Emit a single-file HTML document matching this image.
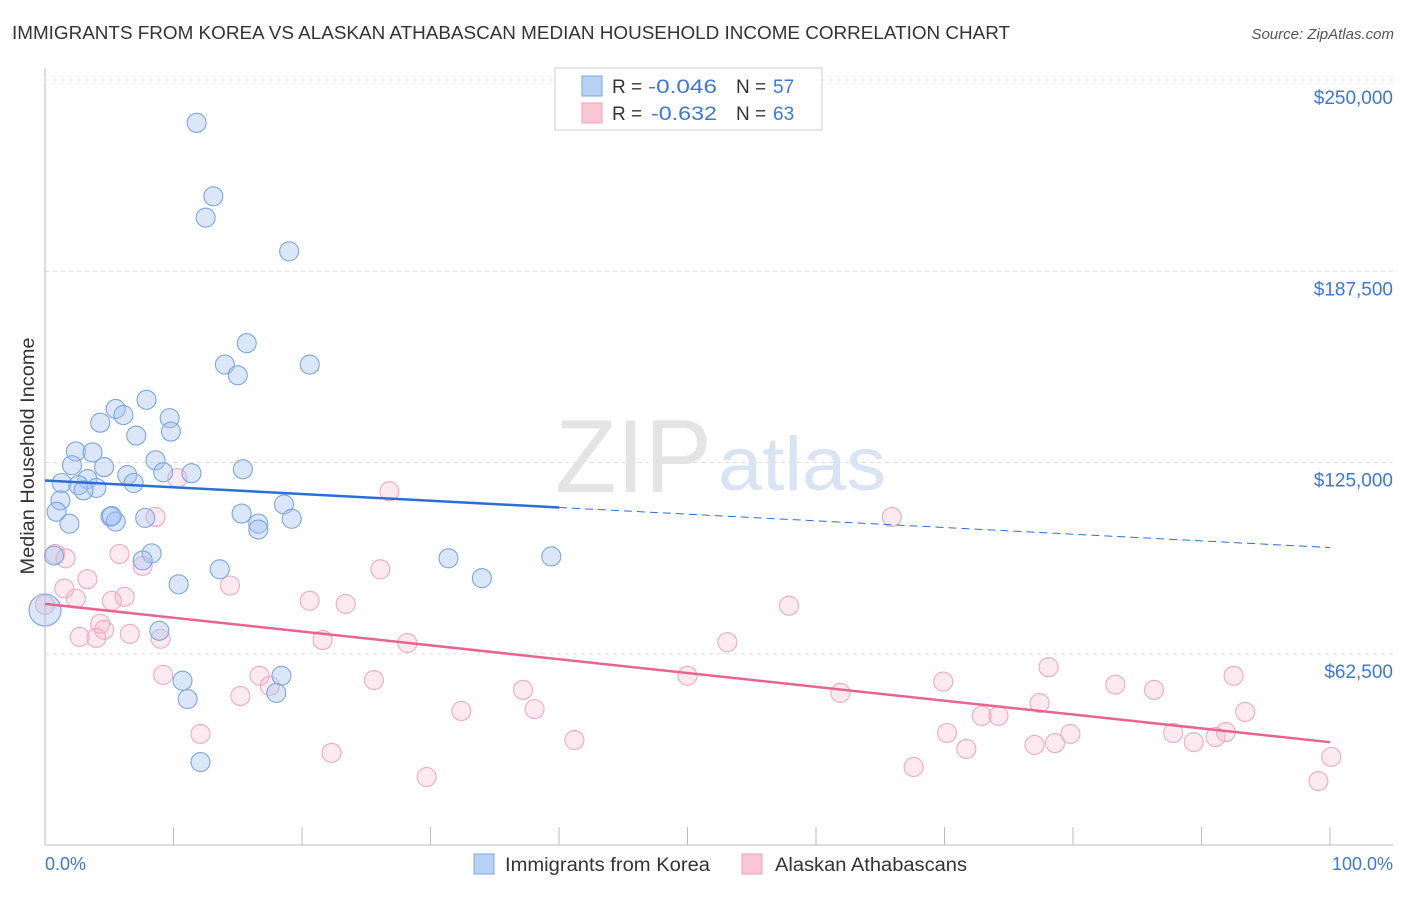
<!DOCTYPE html>
<html><head><meta charset="utf-8"><style>
body{margin:0;background:#fff;font-family:"Liberation Sans",sans-serif;}
svg text{font-family:"Liberation Sans",sans-serif;}
</style></head><body>
<svg width="1406" height="892" viewBox="0 0 1406 892">
<text x="12" y="39" font-size="18" fill="#333" textLength="998" lengthAdjust="spacingAndGlyphs">IMMIGRANTS FROM KOREA VS ALASKAN ATHABASCAN MEDIAN HOUSEHOLD INCOME CORRELATION CHART</text>
<text x="1394" y="39" font-size="15" fill="#555" font-style="italic" text-anchor="end">Source: ZipAtlas.com</text>
<g id="grid"></g>
<line x1="45" y1="68" x2="45" y2="845" stroke="#bbb"/>
<line x1="45" y1="845" x2="1393" y2="845" stroke="#bbb"/>
<g id="xticks"></g>
<text x="34" y="456" font-size="19" fill="#333" text-anchor="middle" textLength="237" lengthAdjust="spacingAndGlyphs" transform="rotate(-90 34 456)">Median Household Income</text>
<text x="45" y="870" font-size="18" fill="#3a78d4">0.0%</text>
<text x="1393" y="870" font-size="18" fill="#3a78d4" text-anchor="end">100.0%</text>
<text x="555" y="492" font-size="104" fill="#e4e4e4" textLength="157" lengthAdjust="spacingAndGlyphs" font-family="Liberation Serif">ZIP</text>
<text x="718" y="490" font-size="76" fill="#d8e4f4" textLength="168" lengthAdjust="spacingAndGlyphs">atlas</text>
<g id="pink"></g>
<g id="blue"></g>
<g id="trends"></g>
<g>
<rect x="555" y="68" width="267" height="62" fill="#fff" stroke="#ccc"/>
<rect x="582" y="76" width="20" height="20" fill="#b8d2f4" stroke="#7aa6e0"/>
<rect x="582" y="103" width="20" height="20" fill="#f9c7d6" stroke="#f0a0bb"/>
<text x="612" y="93" font-size="19" fill="#333">R =</text>
<text x="648" y="93" font-size="19" fill="#3a78d4" textLength="69" lengthAdjust="spacingAndGlyphs">-0.046</text>
<text x="736" y="93" font-size="19" fill="#333">N =</text>
<text x="773" y="93" font-size="19" fill="#3a78d4">57</text>
<text x="612" y="120" font-size="19" fill="#333">R =</text>
<text x="651" y="120" font-size="19" fill="#3a78d4" textLength="66" lengthAdjust="spacingAndGlyphs">-0.632</text>
<text x="736" y="120" font-size="19" fill="#333">N =</text>
<text x="773" y="120" font-size="19" fill="#3a78d4">63</text>
</g>
<g>
<rect x="474" y="854" width="20" height="20" fill="#b8d2f4" stroke="#7aa6e0"/>
<text x="505" y="871" font-size="19" fill="#333" textLength="205" lengthAdjust="spacingAndGlyphs">Immigrants from Korea</text>
<rect x="742" y="854" width="20" height="20" fill="#f9c7d6" stroke="#f0a0bb"/>
<text x="775" y="871" font-size="19" fill="#333" textLength="192" lengthAdjust="spacingAndGlyphs">Alaskan Athabascans</text>
</g>
</svg>
<script>
const yTicks=[62500,125000,187500,250000];
const yTickLabels=["$62,500","$125,000","$187,500","$250,000"];
const xTicks=[0,10,20,30,40,50,60,70,80,90,100];
// blue [x%, income]
const blueX=[11.8,13.1,12.5,19.0,15.7,14.0,20.6,15.0,7.9,5.5,6.1,9.7,4.3,7.1,9.8,2.4,3.7,8.6,2.1,4.6,15.4,9.2,11.4,6.4,6.9,1.3,3.3,2.6,4.0,3.0,1.2,18.6,0.9,15.3,5.1,7.8,19.2,5.5,16.6,16.6,1.9,0.7,8.3,7.6,31.4,39.4,13.6,10.4,34.0,0,8.9,18.4,10.7,18.0,11.1,12.1,5.2];
const blueY=[236000,212000,205000,194000,164000,157000,157000,153500,145500,142500,140500,139500,138000,133800,135100,128600,128300,125700,124100,123500,122800,121800,121500,120900,118300,118300,119600,117600,116700,115900,112600,111300,108900,108300,107300,106900,106600,105700,105000,103100,105000,94600,95300,93000,93700,94300,90100,85200,87200,76800,70000,55300,53700,49700,47700,27100,107500];
const pinkX=[10.3,26.8,65.9,8.6,0.8,1.6,5.8,7.6,26.1,3.3,1.5,14.4,2.4,6.2,5.2,20.6,23.4,57.9,4.3,4.6,2.7,4.0,6.6,9.0,21.6,28.2,53.1,9.2,78.1,16.7,25.6,50.0,92.5,17.5,69.9,37.2,83.3,86.3,15.2,61.9,77.4,32.4,38.1,93.4,72.9,74.2,12.1,70.2,79.8,87.8,91.9,77.0,78.6,89.4,91.1,41.2,71.7,22.3,100.1,67.6,29.7,99.1,0];
const pinkY=[119900,115600,107200,107200,95100,93700,95100,91200,90100,86900,83800,84800,80500,81100,79800,79800,78800,78200,72300,70300,68000,67700,69000,67400,67000,66000,66300,55600,58100,55300,53900,55300,55300,52000,53400,50700,52400,50700,48700,49700,46400,43800,44400,43500,42200,42200,36300,36600,36300,36600,36900,32700,33300,33600,35300,34300,31400,30100,28800,25500,22200,20900,78500];
const blueTrend=[[0,119100],[40,110300],[100,97200]];
const pinkTrend=[[0,78800],[100,33600]];
const X=p=>45+p*12.85, Y=v=>845-v*191.25/62500;
const NS="http://www.w3.org/2000/svg";
function mk(t,a,parent){const e=document.createElementNS(NS,t);for(const k in a)e.setAttribute(k,a[k]);document.getElementById(parent).appendChild(e);return e;}
yTicks.forEach((v,i)=>{
 const l=mk('line',{x1:45,x2:1393,y1:Y(v),y2:Y(v),stroke:'#ddd','stroke-dasharray':'4,4'},'grid');
 
 
 const t=mk('text',{x:1393,y:Y(v)+24,'font-size':19,fill:'#3a78d4','text-anchor':'end'},'grid');
 t.textContent=yTickLabels[i];
 
 
});
xTicks.forEach(p=>{
 const l=mk('line',{x1:X(p),x2:X(p),y1:827,y2:845,stroke:'#bbb'},'xticks');
 
 
});
pinkX.forEach((p,i)=>{
 const c=mk('circle',{cx:X(p),cy:Y(pinkY[i]),r:9.5,fill:'rgba(245,170,195,0.25)',stroke:'#f2a8c0','stroke-width':1.1},'pink');
 
 
});
blueX.forEach((p,i)=>{
 const c=mk('circle',{cx:X(p),cy:Y(blueY[i]),r:i==49?16:9.5,fill:'rgba(164,196,240,0.4)',stroke:'#7aa6e0','stroke-width':1.1},'blue');
 
 
});
let b=mk('line',{x1:X(blueTrend[0][0]),y1:Y(blueTrend[0][1]),x2:X(blueTrend[1][0]),y2:Y(blueTrend[1][1]),stroke:'#2a6fd6','stroke-width':2.5},'trends');


b=mk('line',{x1:X(blueTrend[1][0]),y1:Y(blueTrend[1][1]),x2:X(blueTrend[2][0]),y2:Y(blueTrend[2][1]),stroke:'#2a6fd6','stroke-width':1,'stroke-dasharray':'8,5'},'trends');


b=mk('line',{x1:X(pinkTrend[0][0]),y1:Y(pinkTrend[0][1]),x2:X(pinkTrend[1][0]),y2:Y(pinkTrend[1][1]),stroke:'#e8648e','stroke-width':2.5},'trends');


</script>
</body></html>
